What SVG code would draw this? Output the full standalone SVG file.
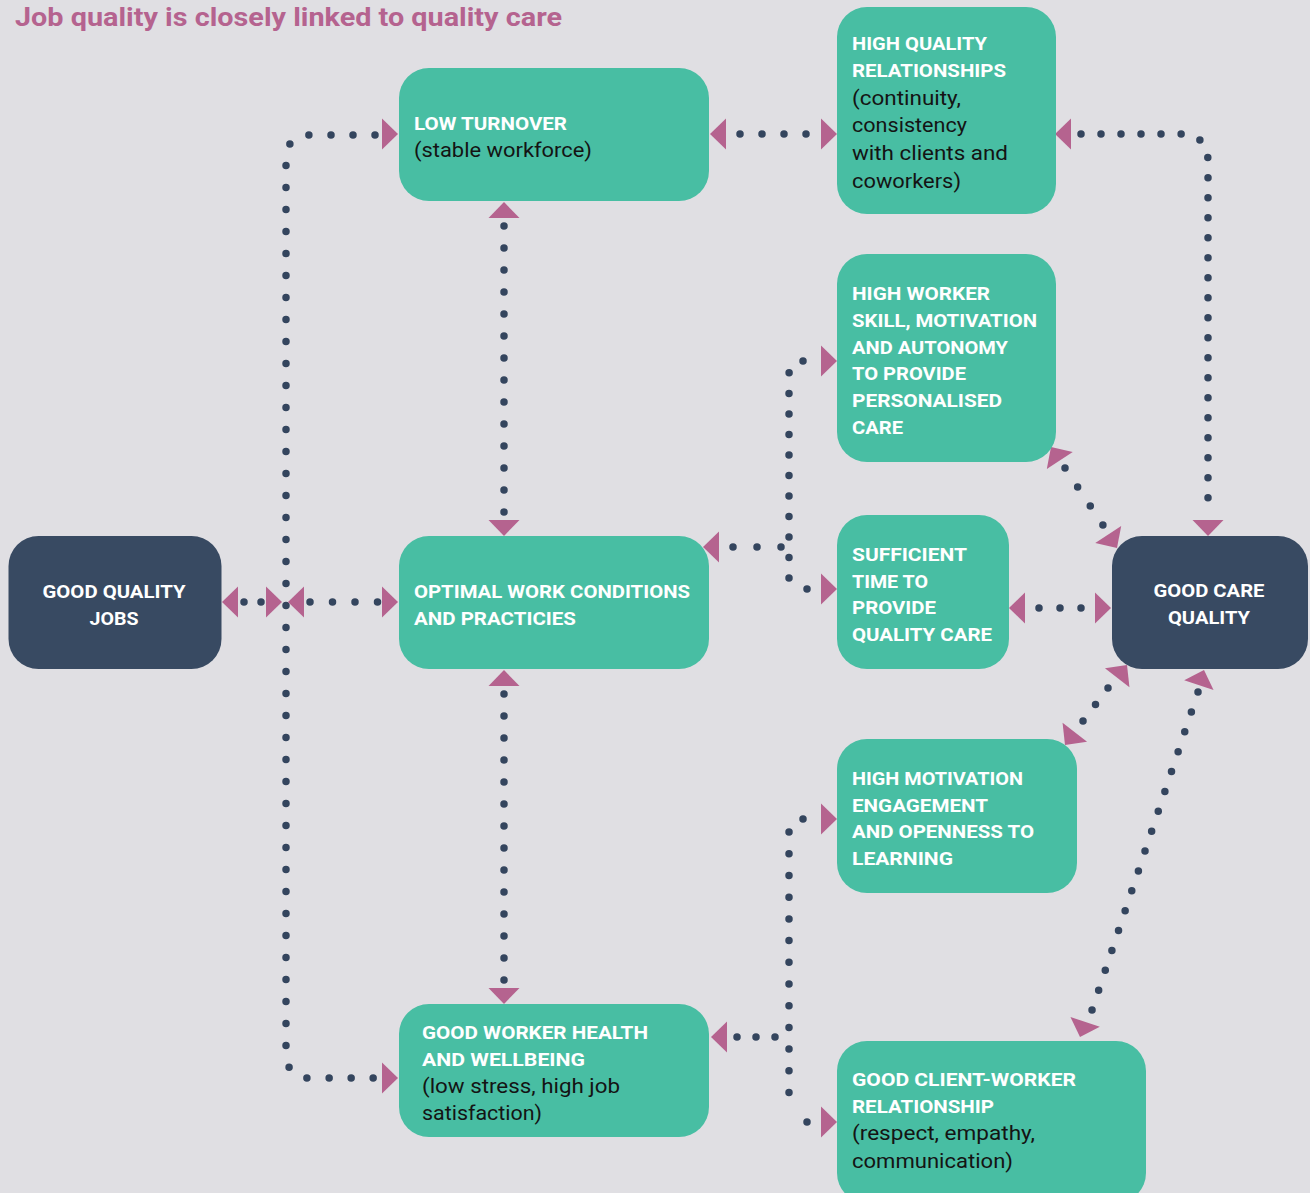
<svg xmlns="http://www.w3.org/2000/svg" xmlns:xlink="http://www.w3.org/1999/xlink" width="1310" height="1193" viewBox="0 0 1310 1193">
<style>
.teal{fill:#48bea3}
.navy{fill:#384a62}
text{font-family:Roboto,"Liberation Sans",sans-serif}
.h{font-weight:700;font-size:19px;fill:#ffffff}
.b{font-weight:400;font-size:20px;fill:#141414}
.title{font-weight:700;font-size:26px;fill:#b5638f}
.c{stroke:#34455e;stroke-width:7.5;stroke-linecap:round;fill:none}
.ah{fill:#b5638f}
</style>
<defs>
<path id="ah" d="M0 0 L-16 -15.5 L-16 15.5 Z"/>
</defs>
<rect x="0" y="0" width="1310" height="1193" fill="#e0dfe3"/>
<text class="title" x="15" y="26" textLength="547" lengthAdjust="spacingAndGlyphs">Job quality is closely linked to quality care</text>

<g id="connectors">
<path class="c" stroke-dasharray="0 22" d="M375 135 H310 Q286 135 286 160 V1052 Q286 1078 310 1078 H376"/>
<path class="c" stroke-dasharray="0 17" d="M244 602 H262"/>
<path class="c" stroke-dasharray="0 22.5" d="M310 602 H378.5"/>
<path class="c" stroke-dasharray="0 22" d="M740 134 H807"/>
<path class="c" stroke-dasharray="0 22" d="M504 226 V513"/>
<path class="c" stroke-dasharray="0 22" d="M504 694 V981"/>
<path class="c" stroke-dasharray="0 20" d="M1081 134 H1180 Q1208 134 1208 162 V513"/>
<path class="c" stroke-dasharray="0 20.5" d="M803 361 Q789 361 789 375 V578 Q789 583 792 580"/>
<path class="c" d="M807 589 h0.01"/>
<path class="c" stroke-dasharray="0 24" d="M733 547 H782"/>
<path class="c" stroke-dasharray="0 21.7" d="M803 819 Q789 819 789 833 V1112"/>
<path class="c" d="M807 1122 h0.01"/>
<path class="c" stroke-dasharray="0 19" d="M737 1037 H776"/>
<path class="c" stroke-dasharray="0 21" d="M1039 608 H1082"/>
<path class="c" stroke-dasharray="0 22.8" d="M1065 468 L1103.6 526"/>
<path class="c" stroke-dasharray="0 20.7" d="M1108 688 L1082.4 721.8"/>
<path class="c" stroke-dasharray="0 20.95" d="M1198 692 L1091.7 1011"/>
<g class="ah">
<use href="#ah" transform="translate(398 134)"/>
<use href="#ah" transform="translate(398 1078)"/>
<use href="#ah" transform="translate(222 602) rotate(180)"/>
<use href="#ah" transform="translate(282 602)"/>
<use href="#ah" transform="translate(288 602) rotate(180)"/>
<use href="#ah" transform="translate(398 602)"/>
<use href="#ah" transform="translate(710 134) rotate(180)"/>
<use href="#ah" transform="translate(837 134)"/>
<use href="#ah" transform="translate(504 202) rotate(-90)"/>
<use href="#ah" transform="translate(504 536) rotate(90)"/>
<use href="#ah" transform="translate(504 670) rotate(-90)"/>
<use href="#ah" transform="translate(504 1004) rotate(90)"/>
<use href="#ah" transform="translate(1055 134) rotate(180)"/>
<use href="#ah" transform="translate(1208 536) rotate(90)"/>
<use href="#ah" transform="translate(703 547) rotate(180)"/>
<use href="#ah" transform="translate(837 361)"/>
<use href="#ah" transform="translate(837 589)"/>
<use href="#ah" transform="translate(711 1037) rotate(180)"/>
<use href="#ah" transform="translate(837 819)"/>
<use href="#ah" transform="translate(837 1122)"/>
<use href="#ah" transform="translate(1009 608) rotate(180)"/>
<use href="#ah" transform="translate(1111 608)"/>
<use href="#ah" transform="translate(1051 447) rotate(-123.2)"/>
<use href="#ah" transform="translate(1117 548) rotate(56.8)"/>
<use href="#ah" transform="translate(1127 665) rotate(-52.2)"/>
<use href="#ah" transform="translate(1065 745) rotate(127.8)"/>
<use href="#ah" transform="translate(1204 670) rotate(-71.3)"/>
<use href="#ah" transform="translate(1080 1037) rotate(108.7)"/>
</g>
</g>

<g id="good-quality-jobs">
<rect class="navy" x="8.5" y="536" width="213" height="133" rx="30"/>
<text class="h" x="114" y="598" text-anchor="middle" textLength="143" lengthAdjust="spacingAndGlyphs">GOOD QUALITY</text>
<text class="h" x="114" y="624.5" text-anchor="middle" textLength="49" lengthAdjust="spacingAndGlyphs">JOBS</text>
</g>

<g id="low-turnover">
<rect class="teal" x="399" y="68" width="310" height="133" rx="30"/>
<text class="h" x="414" y="129.5" textLength="153" lengthAdjust="spacingAndGlyphs">LOW TURNOVER</text>
<text class="b" x="414" y="157" textLength="178" lengthAdjust="spacingAndGlyphs">(stable workforce)</text>
</g>

<g id="high-quality-relationships">
<rect class="teal" x="837" y="7" width="219" height="207" rx="30"/>
<text class="h" x="852" y="50" textLength="135" lengthAdjust="spacingAndGlyphs">HIGH QUALITY</text>
<text class="h" x="852" y="77" textLength="154" lengthAdjust="spacingAndGlyphs">RELATIONSHIPS</text>
<text class="b" x="852" y="104.5" textLength="109" lengthAdjust="spacingAndGlyphs">(continuity,</text>
<text class="b" x="852" y="132" textLength="115" lengthAdjust="spacingAndGlyphs">consistency</text>
<text class="b" x="852" y="160" textLength="156" lengthAdjust="spacingAndGlyphs">with clients and</text>
<text class="b" x="852" y="187.5" textLength="109" lengthAdjust="spacingAndGlyphs">coworkers)</text>
</g>

<g id="high-worker-skill">
<rect class="teal" x="837" y="254" width="219" height="208" rx="30"/>
<text class="h" x="852" y="300" textLength="138" lengthAdjust="spacingAndGlyphs">HIGH WORKER</text>
<text class="h" x="852" y="327" textLength="185" lengthAdjust="spacingAndGlyphs">SKILL, MOTIVATION</text>
<text class="h" x="852" y="353.5" textLength="156" lengthAdjust="spacingAndGlyphs">AND AUTONOMY</text>
<text class="h" x="852" y="380" textLength="114" lengthAdjust="spacingAndGlyphs">TO PROVIDE</text>
<text class="h" x="852" y="407" textLength="150" lengthAdjust="spacingAndGlyphs">PERSONALISED</text>
<text class="h" x="852" y="433.5" textLength="51" lengthAdjust="spacingAndGlyphs">CARE</text>
</g>

<g id="optimal-work-conditions">
<rect class="teal" x="399" y="536" width="310" height="133" rx="30"/>
<text class="h" x="414" y="598" textLength="276" lengthAdjust="spacingAndGlyphs">OPTIMAL WORK CONDITIONS</text>
<text class="h" x="414" y="624.5" textLength="162" lengthAdjust="spacingAndGlyphs">AND PRACTICIES</text>
</g>

<g id="sufficient-time">
<rect class="teal" x="837" y="515" width="172" height="154" rx="30"/>
<text class="h" x="852" y="561" textLength="115" lengthAdjust="spacingAndGlyphs">SUFFICIENT</text>
<text class="h" x="852" y="587.5" textLength="76" lengthAdjust="spacingAndGlyphs">TIME TO</text>
<text class="h" x="852" y="614" textLength="84" lengthAdjust="spacingAndGlyphs">PROVIDE</text>
<text class="h" x="852" y="641" textLength="140" lengthAdjust="spacingAndGlyphs">QUALITY CARE</text>
</g>

<g id="good-care-quality">
<rect class="navy" x="1112" y="536" width="196" height="133" rx="30"/>
<text class="h" x="1209" y="597" text-anchor="middle" textLength="111" lengthAdjust="spacingAndGlyphs">GOOD CARE</text>
<text class="h" x="1209" y="624" text-anchor="middle" textLength="82" lengthAdjust="spacingAndGlyphs">QUALITY</text>
</g>

<g id="high-motivation">
<rect class="teal" x="837" y="739" width="240" height="154" rx="30"/>
<text class="h" x="852" y="785" textLength="171" lengthAdjust="spacingAndGlyphs">HIGH MOTIVATION</text>
<text class="h" x="852" y="811.5" textLength="136" lengthAdjust="spacingAndGlyphs">ENGAGEMENT</text>
<text class="h" x="852" y="838" textLength="182" lengthAdjust="spacingAndGlyphs">AND OPENNESS TO</text>
<text class="h" x="852" y="865" textLength="101" lengthAdjust="spacingAndGlyphs">LEARNING</text>
</g>

<g id="good-worker-health">
<rect class="teal" x="399" y="1004" width="310" height="133" rx="30"/>
<text class="h" x="422" y="1039" textLength="226" lengthAdjust="spacingAndGlyphs">GOOD WORKER HEALTH</text>
<text class="h" x="422" y="1065.5" textLength="163" lengthAdjust="spacingAndGlyphs">AND WELLBEING</text>
<text class="b" x="422" y="1092.5" textLength="198" lengthAdjust="spacingAndGlyphs">(low stress, high job</text>
<text class="b" x="422" y="1120" textLength="120" lengthAdjust="spacingAndGlyphs">satisfaction)</text>
</g>

<g id="good-client-worker">
<rect class="teal" x="837" y="1041" width="309" height="162" rx="30"/>
<text class="h" x="852" y="1086" textLength="224" lengthAdjust="spacingAndGlyphs">GOOD CLIENT-WORKER</text>
<text class="h" x="852" y="1112.5" textLength="142" lengthAdjust="spacingAndGlyphs">RELATIONSHIP</text>
<text class="b" x="852" y="1140" textLength="183" lengthAdjust="spacingAndGlyphs">(respect, empathy,</text>
<text class="b" x="852" y="1168" textLength="161" lengthAdjust="spacingAndGlyphs">communication)</text>
</g>
</svg>
